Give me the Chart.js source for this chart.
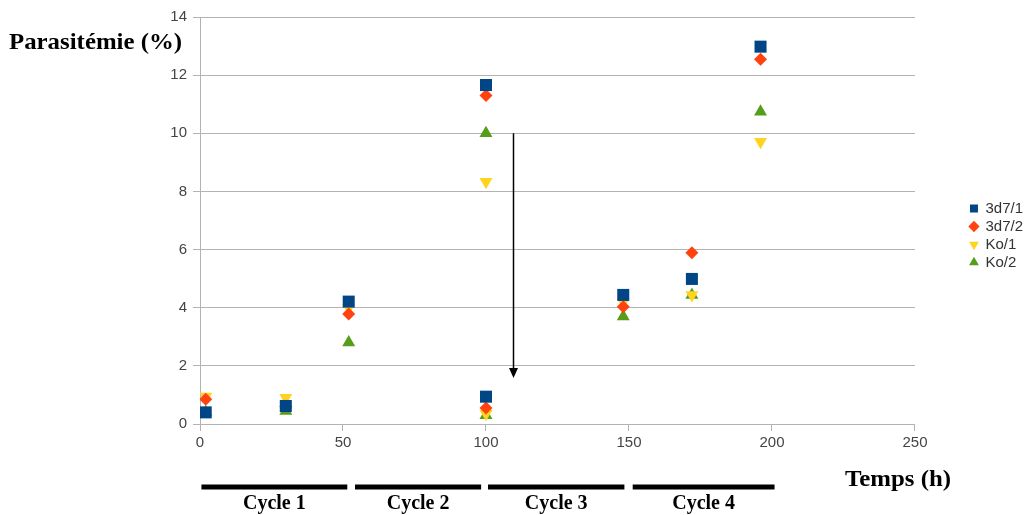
<!DOCTYPE html>
<html>
<head>
<meta charset="utf-8">
<script src="https://cdn.jsdelivr.net/npm/chart.js@4/dist/chart.umd.min.js"></script>
<style>
  html, body { margin: 0; padding: 0; background: #fff; }
  #wrap { width: 1025px; height: 515px; }
</style>
</head>
<body>
<div id="wrap"><canvas id="chart" width="1025" height="515"></canvas></div>
<script>
// time points (h) - 100 h appears twice (before / after dilution)
const temps = [2, 30, 52, 100, 100, 148, 172, 196];
const seriesNames = ["3d7/1", "3d7/2", "Ko/1", "Ko/2"];
const s3d7_1 = [0.4, 0.62, 4.21, 11.66, 0.94, 4.44, 4.99, 12.98];
const s3d7_2 = [0.85, 0.6, 3.78, 11.3, 0.55, 4.03, 5.89, 12.55];
const ko_1 = [0.95, 0.9, 4.0, 8.33, 0.35, 4.2, 4.44, 9.71];
const ko_2 = [0.4, 0.45, 2.8, 10.0, 0.3, 3.7, 4.44, 10.74];

// cycle bars under the x axis: [start h, end h, label]
const cycles = [
  [0.5, 51.5, "Cycle 1"],
  [54.2, 98.3, "Cycle 2"],
  [100.7, 148.4, "Cycle 3"],
  [151.3, 200.9, "Cycle 4"]
];
// dilution arrow: x, from y, to y
const arrow = [109.6, 10, 1.58];

const tickFont = { family: "'Liberation Sans', Arial, sans-serif", size: 15 };
const serif = "'Liberation Serif', 'Times New Roman', serif";

function pts(values) {
  return values.map((v, i) => ({ x: temps[i], y: v }));
}

// stretched bold serif text, like the original figure
function wideText(ctx, txt, x, y, sx) {
  ctx.save();
  ctx.translate(x, y);
  ctx.scale(sx, 1);
  ctx.fillText(txt, 0, 0);
  ctx.restore();
}

const extras = {
  id: "extras",
  afterDraw(chart) {
    const ctx = chart.ctx;
    const x = chart.scales.x;
    const y = chart.scales.y;
    ctx.save();

    // arrow
    const ax = Math.round(x.getPixelForValue(arrow[0])) + 0.5;
    const ay1 = y.getPixelForValue(arrow[1]);
    const ay2 = y.getPixelForValue(arrow[2]);
    ctx.strokeStyle = "#000";
    ctx.fillStyle = "#000";
    ctx.lineWidth = 1.5;
    ctx.beginPath();
    ctx.moveTo(ax, ay1);
    ctx.lineTo(ax, ay2 - 8);
    ctx.stroke();
    ctx.beginPath();
    ctx.moveTo(ax - 4.5, ay2 - 10);
    ctx.lineTo(ax + 4.5, ay2 - 10);
    ctx.lineTo(ax, ay2);
    ctx.closePath();
    ctx.fill();

    // cycle bars + labels
    ctx.font = "bold 20px " + serif;
    ctx.textAlign = "center";
    ctx.textBaseline = "middle";
    ctx.lineWidth = 5;
    cycles.forEach(c => {
      const x1 = x.getPixelForValue(c[0]);
      const x2 = x.getPixelForValue(c[1]);
      ctx.beginPath();
      ctx.moveTo(x1, 487);
      ctx.lineTo(x2, 487);
      ctx.stroke();
      ctx.fillText(c[2], (x1 + x2) / 2, 504);
    });

    // axis titles
    ctx.font = "bold 23px " + serif;
    ctx.textAlign = "left";
    wideText(ctx, "Parasitémie (%)", 9, 43, 1.08);
    wideText(ctx, "Temps (h)", 845, 480, 1.08);
    ctx.restore();
  }
};

const chart = new Chart(document.getElementById("chart"), {
  type: "scatter",
  data: {
    datasets: [
      { label: seriesNames[0], data: pts(s3d7_1), pointStyle: "rect", pointRadius: 8.5,
        backgroundColor: "#004586", borderColor: "#004586", borderWidth: 0 },
      { label: seriesNames[1], data: pts(s3d7_2), pointStyle: "rectRot", pointRadius: 6.5,
        backgroundColor: "#ff420e", borderColor: "#ff420e", borderWidth: 0 },
      { label: seriesNames[2], data: pts(ko_1), pointStyle: "triangle", pointRotation: 180, pointRadius: 7.5,
        backgroundColor: "#ffd320", borderColor: "#ffd320", borderWidth: 0 },
      { label: seriesNames[3], data: pts(ko_2), pointStyle: "triangle", pointRadius: 7.5,
        backgroundColor: "#579d1c", borderColor: "#579d1c", borderWidth: 0 }
    ]
  },
  options: {
    responsive: false,
    animation: false,
    events: [],
    layout: { padding: { top: 17, left: 0, right: -8, bottom: 61 } },
    plugins: {
      tooltip: { enabled: false },
      legend: {
        position: "right",
        labels: {
          usePointStyle: true,
          boxWidth: 8,
          boxHeight: 8,
          padding: 3,
          color: "#333",
          font: tickFont
        }
      }
    },
    scales: {
      x: {
        type: "linear",
        min: 0,
        max: 250,
        ticks: { stepSize: 50, color: "#444", font: tickFont, padding: 3, maxRotation: 0 },
        grid: { drawOnChartArea: false, color: "#b3b3b3", tickLength: 7 },
        border: { color: "#b3b3b3" },
        afterFit: s => { s.height = 30; }
      },
      y: {
        type: "linear",
        min: 0,
        max: 14,
        ticks: { stepSize: 2, color: "#444", font: tickFont, padding: 6 },
        grid: { color: "#b3b3b3", tickLength: 7 },
        border: { color: "#b3b3b3" },
        afterFit: s => { s.width = 200; }
      },
      pad: {
        type: "linear",
        position: "right",
        display: true,
        grid: { display: false },
        border: { display: false },
        ticks: { display: false },
        afterFit: s => { s.width = 52; }
      }
    }
  },
  plugins: [extras]
});
</script>
</body>
</html>
